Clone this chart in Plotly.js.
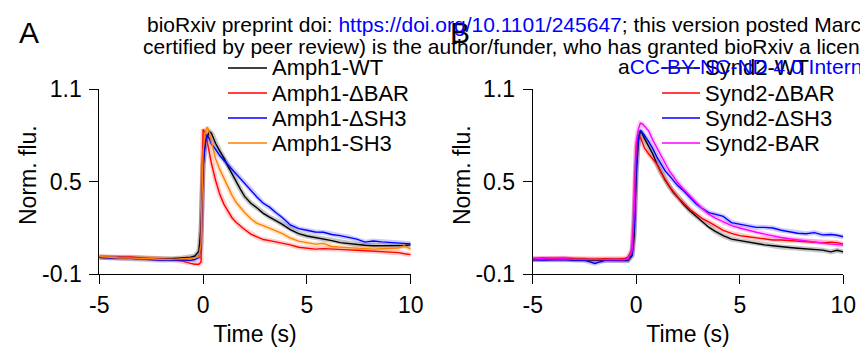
<!DOCTYPE html>
<html>
<head>
<meta charset="utf-8">
<script src="https://cdn.plot.ly/plotly-3.0.1.min.js"></script>
<style>html,body{margin:0;padding:0;background:#fff}#chart{width:860px;height:355px}</style>
</head>
<body>
<div id="chart"></div>
<script>
// Time axis (s), shared by all series
const time = [-5,-4.5,-4,-3.5,-3,-2.5,-2,-1.5,-1,-0.6,-0.4,-0.2,-0.1,0,0.1,0.2,0.3,0.4,0.6,0.8,1.0,1.2,1.4,1.6,1.8,2.0,2.3,2.6,2.9,3.2,3.5,3.8,4.2,4.6,5.0,5.4,5.8,6.2,6.6,7.0,7.4,7.8,8.2,8.6,9.0,9.4,9.7,10.0];

// Panel A
const amph1WT   = [0.01,0.008,0.006,0.005,0.004,0.0,-0.003,0.0,0.005,0.01,0.018,0.05,0.2,0.6,0.76,0.8,0.825,0.815,0.75,0.7,0.655,0.6,0.55,0.49,0.45,0.405,0.36,0.33,0.295,0.27,0.25,0.225,0.19,0.163,0.148,0.138,0.13,0.118,0.105,0.098,0.093,0.088,0.085,0.084,0.084,0.083,0.086,0.09];
const amph1dBAR = [0.012,0.008,0.01,0.012,0.005,0.0,-0.002,-0.005,-0.015,-0.03,-0.035,-0.035,-0.02,0.84,0.82,0.76,0.68,0.62,0.51,0.42,0.355,0.305,0.265,0.235,0.21,0.19,0.16,0.14,0.125,0.118,0.11,0.1,0.09,0.075,0.068,0.063,0.066,0.065,0.062,0.058,0.055,0.052,0.05,0.047,0.044,0.04,0.033,0.027];
const amph1dSH3 = [0.01,0.006,0.008,0.004,0.0,-0.005,-0.01,-0.006,-0.008,-0.01,-0.005,0.01,0.1,0.6,0.75,0.805,0.78,0.745,0.71,0.67,0.64,0.61,0.58,0.55,0.52,0.49,0.44,0.4,0.36,0.335,0.3,0.27,0.22,0.196,0.185,0.174,0.172,0.158,0.15,0.14,0.128,0.108,0.115,0.11,0.105,0.103,0.1,0.097];
const amph1SH3  = [0.015,0.008,0.005,0.006,0.0,0.0,-0.005,-0.004,0.0,0.002,0.005,0.015,0.1,0.7,0.82,0.855,0.82,0.76,0.65,0.58,0.52,0.46,0.41,0.365,0.33,0.3,0.26,0.23,0.215,0.2,0.18,0.165,0.135,0.115,0.105,0.095,0.1,0.08,0.076,0.073,0.072,0.066,0.063,0.065,0.067,0.07,0.085,0.062];

// Panel B
const synd2WT   = [-0.005,-0.003,-0.005,-0.002,-0.006,-0.008,-0.01,-0.01,-0.012,-0.013,-0.012,0.02,0.15,0.55,0.76,0.83,0.81,0.78,0.73,0.68,0.615,0.56,0.51,0.47,0.43,0.4,0.35,0.31,0.275,0.24,0.205,0.18,0.15,0.128,0.118,0.108,0.098,0.09,0.085,0.077,0.073,0.068,0.065,0.06,0.056,0.045,0.055,0.045];
const synd2dBAR = [0.0,0.005,0.002,0.004,0.0,-0.003,-0.002,0.0,-0.003,0.0,0.01,0.06,0.3,0.72,0.8,0.79,0.75,0.72,0.68,0.65,0.615,0.56,0.51,0.47,0.435,0.4,0.36,0.32,0.29,0.26,0.24,0.215,0.185,0.165,0.15,0.143,0.135,0.128,0.122,0.122,0.118,0.115,0.112,0.108,0.103,0.108,0.105,0.095];
const synd2dSH3 = [-0.005,-0.008,-0.006,-0.005,-0.01,-0.008,-0.03,-0.01,-0.008,-0.01,-0.008,0.03,0.2,0.6,0.78,0.835,0.82,0.8,0.76,0.715,0.66,0.61,0.57,0.54,0.505,0.475,0.44,0.395,0.355,0.325,0.3,0.29,0.275,0.235,0.225,0.215,0.204,0.204,0.2,0.185,0.175,0.166,0.163,0.17,0.155,0.158,0.153,0.143];
const synd2BAR  = [0.0,0.002,-0.002,0.0,-0.004,-0.005,-0.006,-0.004,-0.005,-0.006,0.0,0.05,0.3,0.75,0.84,0.88,0.875,0.86,0.83,0.77,0.72,0.665,0.615,0.57,0.535,0.495,0.45,0.405,0.365,0.325,0.29,0.265,0.24,0.215,0.2,0.185,0.172,0.16,0.148,0.138,0.13,0.122,0.115,0.108,0.102,0.095,0.092,0.089];

const namesA = ['Amph1-WT','Amph1-\u0394BAR','Amph1-\u0394SH3','Amph1-SH3'];
const namesB = ['Synd2-WT','Synd2-\u0394BAR','Synd2-\u0394SH3','Synd2-BAR'];
const colorsA = ['#000000','#ff0000','#0000ff','#ff8000'];
const colorsB = ['#000000','#ff0000','#0000ff','#ff00ff'];
const bandA = ['rgba(0,0,0,0.22)','rgba(255,0,0,0.2)','rgba(0,0,255,0.2)','rgba(255,128,0,0.22)'];
const bandB = ['rgba(0,0,0,0.22)','rgba(255,0,0,0.2)','rgba(0,0,255,0.2)','rgba(255,0,255,0.2)'];
const seriesA = [amph1WT, amph1dBAR, amph1dSH3, amph1SH3];
const seriesB = [synd2WT, synd2dBAR, synd2dSH3, synd2BAR];

const xTicks = [-5,0,5,10];
const xTickText = ['-5','0','5','10'];
const yTicks = [-0.1,0.5,1.1];
const yTickText = ['-0.1','0.5','1.1'];

const traces = [];
function addPanel(series, names, colors, bands, xa, ya) {
  series.forEach((s,i) => traces.push({x: time, y: s, xaxis: xa, yaxis: ya, mode: 'lines', line: {color: bands[i], width: 5}, hoverinfo: 'skip', showlegend: false}));
  series.forEach((s,i) => traces.push({x: time, y: s, xaxis: xa, yaxis: ya, mode: 'lines', name: names[i], line: {color: colors[i], width: 1.4}, showlegend: false}));
}
addPanel(seriesA, namesA, colorsA, bandA, 'x', 'y');
addPanel(seriesB, namesB, colorsB, bandB, 'x2', 'y2');

const font = 'Liberation Sans, Arial, sans-serif';
const xBase = {range: [-5,10], showgrid: false, zeroline: false, showline: true, linecolor: '#000', linewidth: 1,
  ticks: 'outside', ticklen: 9, tickcolor: '#000', tickmode: 'array', tickvals: xTicks, ticktext: xTickText,
  tickfont: {family: font, size: 23, color: '#000'}, ticklabelstandoff: 1,
  title: {text: 'Time (s)', font: {family: font, size: 23, color: '#000'}, standoff: 9}};
const yBase = {range: [-0.1,1.1], showgrid: false, zeroline: false, showline: true, linecolor: '#000', linewidth: 1,
  ticks: 'outside', ticklen: 9, tickcolor: '#000', tickmode: 'array', tickvals: yTicks, ticktext: yTickText,
  tickfont: {family: font, size: 23, color: '#000'}, ticklabelstandoff: 3};

const W = 860, H = 355;
const px = v => v / W, py = v => 1 - v / H;

// legends (drawn manually so the swatch length matches)
const shapes = [], annotations = [];
const rowY = [68, 93, 118, 143];
function addLegend(names, colors, x0, x1, tx) {
  names.forEach((n,i) => {
    shapes.push({type: 'line', xref: 'paper', yref: 'paper', x0: px(x0), x1: px(x1), y0: py(rowY[i]), y1: py(rowY[i]), line: {color: colors[i], width: 1.4}});
    annotations.push({xref: 'paper', yref: 'paper', x: px(tx), y: py(rowY[i]), xanchor: 'left', yanchor: 'middle', showarrow: false, text: n, font: {family: font, size: 22, color: '#000'}});
  });
}
addLegend(namesA, colorsA, 228, 267, 270);
addLegend(namesB, colorsB, 662, 700, 703);

// y-axis titles
[28, 462].forEach(x => annotations.push({xref: 'paper', yref: 'paper', x: px(x), y: py(175), xanchor: 'center', yanchor: 'middle', textangle: -90, showarrow: false, text: 'Norm. flu.', font: {family: font, size: 23, color: '#000'}}));

// panel letters
annotations.push({xref: 'paper', yref: 'paper', x: px(17), y: py(33), xanchor: 'left', yanchor: 'middle', showarrow: false, text: 'A', font: {family: font, size: 30, color: '#000'}});
annotations.push({xref: 'paper', yref: 'paper', x: px(448), y: py(33), xanchor: 'left', yanchor: 'middle', showarrow: false, text: 'B', font: {family: font, size: 30, color: '#000'}});

// preprint header
const blue = '#0000ff';
const hdr = [
  {x: 145, y: 24, text: 'bioRxiv preprint doi: <span style="color:' + blue + '">https://doi.org/10.1101/245647</span>; this version posted March 20, 2018.'},
  {x: 141, y: 46, text: 'certified by peer review) is the author/funder, who has granted bioRxiv a license to display'},
  {x: 616, y: 67, text: 'a<span style="color:' + blue + '">CC-BY-NC-ND 4.0 International license</span>.'}
];
hdr.forEach(h => annotations.push({xref: 'paper', yref: 'paper', x: px(h.x), y: py(h.y), xanchor: 'left', yanchor: 'middle', showarrow: false, text: h.text, font: {family: font, size: 21, color: '#000'}}));

const layout = {
  width: W, height: H, margin: {l: 0, r: 0, t: 0, b: 0}, paper_bgcolor: '#fff', plot_bgcolor: 'rgba(0,0,0,0)',
  showlegend: false,
  xaxis: Object.assign({}, xBase, {domain: [99.3/W, 410.7/W], anchor: 'y'}),
  yaxis: Object.assign({}, yBase, {domain: [1-274.2/H, 1-89.3/H], anchor: 'x'}),
  xaxis2: Object.assign({}, xBase, {domain: [532.7/W, 843.3/W], anchor: 'y2'}),
  yaxis2: Object.assign({}, yBase, {domain: [1-274.2/H, 1-89.3/H], anchor: 'x2'}),
  shapes: shapes, annotations: annotations
};
Plotly.newPlot('chart', traces, layout, {staticPlot: true, displayModeBar: false});
</script>
</body>
</html>
